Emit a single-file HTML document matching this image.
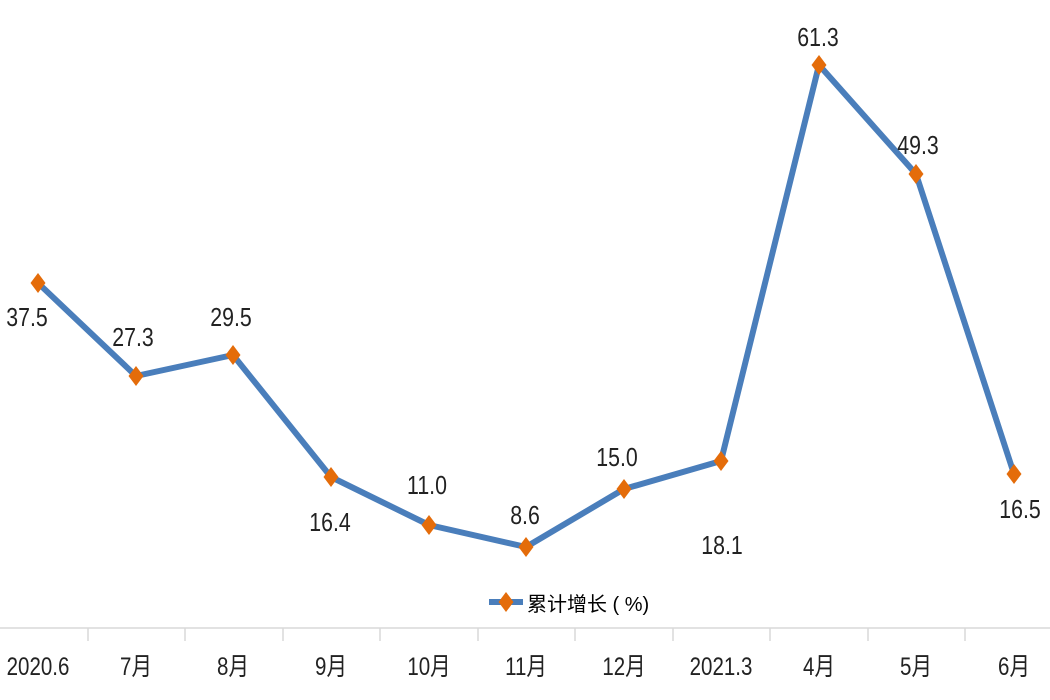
<!DOCTYPE html>
<html><head><meta charset="utf-8"><style>
html,body{margin:0;padding:0;background:#fff;}
svg{display:block;}
text{font-family:"Liberation Sans","Noto Sans CJK SC",sans-serif;fill:#222;}
</style></head><body>
<svg width="1050" height="700" viewBox="0 0 1050 700" xmlns="http://www.w3.org/2000/svg">
<defs>
<path id="d" d="M0,-10 L7.5,0 L0,10 L-7.5,0 Z" fill="#e46c0a"/>
</defs>
<line x1="0" y1="628" x2="1050" y2="628" stroke="#d9d9d9" stroke-width="1.5"/>
<g stroke="#d9d9d9" stroke-width="1.5">
<line x1="88" y1="628" x2="88" y2="641"/><line x1="185" y1="628" x2="185" y2="641"/>
<line x1="283" y1="628" x2="283" y2="641"/><line x1="380" y1="628" x2="380" y2="641"/>
<line x1="478" y1="628" x2="478" y2="641"/><line x1="575" y1="628" x2="575" y2="641"/>
<line x1="673" y1="628" x2="673" y2="641"/><line x1="770" y1="628" x2="770" y2="641"/>
<line x1="868" y1="628" x2="868" y2="641"/><line x1="965" y1="628" x2="965" y2="641"/>
</g>
<polyline fill="none" stroke="#4a7ebb" stroke-width="6" stroke-linejoin="round"
points="38,283 136,376 233,355 331,477 429,525 526,547 624,489 721,461 819,65 916,174 1014,474"/>
<use href="#d" x="38" y="283"/><use href="#d" x="136" y="376"/><use href="#d" x="233" y="355"/>
<use href="#d" x="331" y="477"/><use href="#d" x="429" y="525"/><use href="#d" x="526" y="547"/>
<use href="#d" x="624" y="489"/><use href="#d" x="721" y="461"/><use href="#d" x="819" y="65"/>
<use href="#d" x="916" y="174"/><use href="#d" x="1014" y="474"/>
<g font-size="26" text-anchor="middle">
<text transform="translate(27,326) scale(0.82,1)">37.5</text>
<text transform="translate(133,346) scale(0.82,1)">27.3</text>
<text transform="translate(231,326) scale(0.82,1)">29.5</text>
<text transform="translate(330,531) scale(0.82,1)">16.4</text>
<text transform="translate(427,494) scale(0.82,1)">11.0</text>
<text transform="translate(525,524) scale(0.82,1)">8.6</text>
<text transform="translate(617,466) scale(0.82,1)">15.0</text>
<text transform="translate(722,554) scale(0.82,1)">18.1</text>
<text transform="translate(818,46) scale(0.82,1)">61.3</text>
<text transform="translate(918,154) scale(0.82,1)">49.3</text>
<text transform="translate(1020,518) scale(0.82,1)">16.5</text>
</g>
<g font-size="25" text-anchor="middle" style="fill:#000">
<text transform="translate(38,675) scale(0.82,1)">2020.6</text>
<text transform="translate(136,675) scale(0.82,1)">7月</text>
<text transform="translate(233,675) scale(0.82,1)">8月</text>
<text transform="translate(331,675) scale(0.82,1)">9月</text>
<text transform="translate(429,675) scale(0.82,1)">10月</text>
<text transform="translate(526,675) scale(0.82,1)">11月</text>
<text transform="translate(624,675) scale(0.82,1)">12月</text>
<text transform="translate(721,675) scale(0.82,1)">2021.3</text>
<text transform="translate(819,675) scale(0.82,1)">4月</text>
<text transform="translate(916,675) scale(0.82,1)">5月</text>
<text transform="translate(1014,675) scale(0.82,1)">6月</text>
</g>
<line x1="489" y1="602" x2="523" y2="602" stroke="#4a7ebb" stroke-width="6"/>
<use href="#d" x="506" y="602"/>
<text x="527" y="611" font-size="20" style="fill:#000">累计增长 ( %)</text>
</svg>
</body></html>
